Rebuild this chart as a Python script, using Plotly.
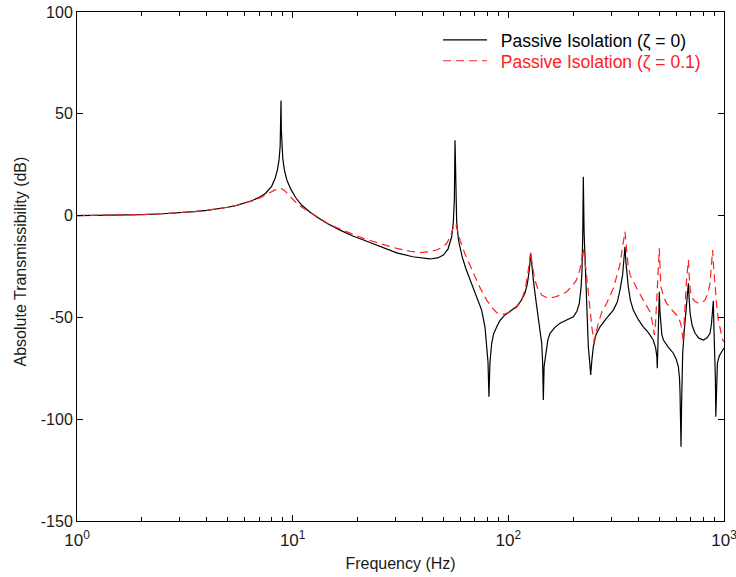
import plotly.graph_objects as go

# Undamped passive isolation: frequency (Hz) and transmissibility (dB)
freq_undamped = [
    1.0, 1.5, 2.0, 2.5, 3.0, 3.5, 4.0, 4.5, 5.0, 5.5, 6.0, 6.5, 7.0, 7.5, 8.0,
    8.3, 8.5, 8.65, 8.75, 8.8, 8.83, 8.86, 8.92, 9.0, 9.15, 9.4, 9.8, 10.3,
    11.0, 12.0, 13.0, 14.4, 16.5, 19.0, 21.3, 25.0, 30.4, 36.0, 40.0, 43.3,
    47.0, 50.0, 52.5, 54.6, 55.6, 56.2, 56.6, 57.0, 57.6, 58.7, 61.0, 63.5,
    66.4, 70.0, 75.2, 78.0, 79.4, 80.5, 81.3, 82.2, 83.7, 85.5, 88.4, 91.5,
    96.0, 101.8, 109.3, 115.0, 119.4, 122.5, 125.1, 127.0, 128.8, 130.6,
    134.0, 137.8, 140.5, 142.8, 144.2, 145.3, 146.5, 149.5, 152.5, 156.1,
    164.0, 173.6, 187.0, 200.1, 208.0, 213.4, 217.5, 219.6, 221.3, 222.7,
    224.5, 227.5, 231.0, 234.9, 238.0, 240.9, 244.0, 247.8, 255.0, 266.1,
    285.0, 306.8, 320.0, 329.5, 338.8, 344.0, 347.4, 351.0, 359.9, 368.0,
    379.6, 400.0, 422.3, 446.0, 469.9, 482.0, 488.0, 490.6, 494.5, 497.9,
    501.3, 504.5, 508.9, 515.0, 523.6, 550.0, 582.4, 600.0, 614.3, 622.0,
    625.4, 629.0, 632.0, 636.0, 643.3, 655.0, 666.7, 676.0, 683.7, 689.5,
    696.5, 712.0, 734.4, 765.0, 802.3, 835.0, 861.5, 875.0, 883.4, 892.5,
    898.0, 906.4, 912.0, 916.2, 922.0, 931.9, 950.0, 975.6, 1000.0,
]
db_undamped = [
    0.0, 0.2, 0.5, 0.9, 1.4, 2.0, 2.6, 3.3, 4.1, 5.0, 6.1, 7.4, 9.0, 11.0, 14.5,
    18.5, 22.5, 27.5, 34.0, 42.0, 56.5, 42.0, 34.0, 28.0, 22.5, 17.5, 13.0, 9.0,
    5.2, 1.8, -0.8, -3.8, -7.0, -10.0, -12.0, -15.0, -18.3, -20.2, -21.0, -21.3,
    -20.8, -19.4, -16.5, -10.4, -3.0, 8.0, 37.0, 8.0, -3.0, -12.0, -20.0, -26.0,
    -31.6, -37.5, -46.4, -55.0, -62.7, -72.0, -89.0, -72.0, -62.7, -58.0, -54.6, -51.5,
    -49.0, -47.2, -44.7, -41.5, -38.2, -33.5, -26.7, -18.5, -26.0, -31.6,
    -41.0, -49.7, -56.0, -62.7, -72.0, -90.6, -74.0, -66.0, -61.0, -57.8,
    -55.0, -52.9, -51.3, -49.7, -47.0, -43.1, -35.0, -26.7, -10.0, 19.1,
    -8.0, -26.7, -47.0, -64.4, -71.0, -78.3, -71.0, -64.4, -58.5, -54.6,
    -50.5, -46.4, -42.5, -36.5, -29.0, -22.0, -15.3, -23.0, -34.9, -41.5,
    -46.4, -51.0, -54.6, -57.5, -61.1, -65.0, -69.0, -75.0, -62.0, -51.3,
    -37.4, -47.0, -54.6, -58.5, -61.1, -64.5, -67.6, -70.5, -74.2, -80.0,
    -87.3, -98.0, -113.5, -92.0, -67.6, -56.0, -48.0, -41.0, -33.3, -41.0,
    -48.0, -54.0, -57.8, -60.2, -61.1, -60.0, -57.8, -53.0, -48.0, -41.9,
    -55.0, -67.6, -80.0, -98.8, -82.0, -72.5, -69.0, -66.8, -65.0,
]

# Damped passive isolation (zeta = 0.1)
freq_damped = [
    1.0, 1.5, 2.0, 2.5, 3.0, 3.5, 4.0, 4.5, 5.0, 5.5, 6.0, 6.5, 7.0, 7.5, 8.0,
    8.5, 8.8, 9.1, 9.4, 9.8, 10.3, 10.8, 11.5, 12.5, 13.5, 14.9, 16.6, 19.0,
    21.3, 25.0, 30.4, 35.0, 38.9, 43.0, 46.5, 49.5, 51.8, 54.0, 56.0, 57.0,
    58.3, 59.7, 63.0, 68.8, 74.0, 79.4, 84.0, 88.4, 94.8, 101.8, 109.3, 115.0,
    119.4, 123.0, 125.5, 127.0, 129.0, 132.8, 137.0, 142.8, 150.0, 161.7,
    175.0, 186.4, 198.0, 207.3, 214.0, 218.9, 222.0, 225.0, 229.2, 234.0,
    239.1, 244.0, 249.6, 255.0, 261.2, 272.0, 285.7, 306.8, 320.0, 329.5,
    335.0, 341.0, 347.4, 353.0, 359.9, 368.0, 379.6, 400.0, 422.3, 440.0,
    453.6, 465.0, 475.6, 482.0, 490.0, 496.0, 501.3, 505.0, 510.0, 525.0,
    542.0, 575.0, 614.3, 632.0, 640.0, 648.0, 655.0, 662.0, 670.0, 678.0,
    683.7, 690.0, 697.0, 707.5, 730.0, 760.8, 790.0, 816.1, 840.0, 861.5,
    875.0, 885.2, 895.0, 907.8, 925.0, 941.3, 965.0, 985.8, 1000.0,
]
db_damped = [
    0.0, 0.2, 0.5, 0.9, 1.4, 2.0, 2.6, 3.3, 4.1, 5.0, 6.0, 7.2, 8.6, 10.2, 11.8,
    13.2, 13.4, 12.6, 11.2, 9.0, 6.7, 4.8, 2.8, 0.5, -1.6, -4.5, -6.6, -9.2,
    -11.2, -13.5, -16.1, -17.5, -18.2, -17.8, -16.9, -15.5, -13.6, -10.0, -4.6, -4.0,
    -7.5, -12.0, -19.0, -28.4, -35.5, -41.5, -45.2, -47.7, -48.5, -47.4, -45.0, -41.8,
    -36.5, -29.0, -21.5, -17.7, -24.0, -31.6, -36.0, -39.0, -40.2, -40.2,
    -39.0, -37.4, -34.5, -31.6, -27.0, -21.8, -16.0, -20.0, -26.7, -36.0,
    -46.4, -55.0, -61.9, -57.0, -52.9, -47.0, -43.1, -35.7, -29.0, -24.0,
    -18.5, -12.0, -7.9, -16.0, -25.1, -29.5, -32.5, -37.0, -41.5, -44.5,
    -47.2, -52.0, -58.6, -52.0, -36.0, -24.0, -16.1, -25.0, -34.9, -40.0,
    -43.1, -46.5, -49.7, -53.5, -58.0, -62.0, -50.0, -40.0, -32.0, -26.0,
    -21.8, -30.0, -36.0, -39.8, -42.0, -43.1, -42.8, -41.5, -38.5, -33.3,
    -26.0, -16.9, -25.0, -34.9, -44.0, -51.3, -57.0, -61.1, -62.0,
]

x_tick_vals = [1, 10, 100, 1000]
x_tick_text = ["10<sup>0</sup>", "10<sup>1</sup>", "10<sup>2</sup>", "10<sup>3</sup>"]
x_minor_vals = [m * 10 ** d for d in range(3) for m in range(2, 10)]
y_tick_vals = [-150, -100, -50, 0, 50, 100]
y_tick_text = ["-150", "-100", "-50", "0", "50", "100"]

FONT = "Liberation Sans, Arial, sans-serif"
TEXT_COLOR = "#1a1a1a"
RED = "#ff2020"

fig = go.Figure()
fig.add_trace(go.Scatter(
    x=freq_undamped, y=db_undamped, mode="lines",
    name="\u2002Passive Isolation (\u03b6 = 0)",
    line=dict(color="black", width=1.2),
    legend="legend",
))
fig.add_trace(go.Scatter(
    x=freq_damped, y=db_damped, mode="lines",
    name="<span style='color:#ff2020'>\u2002Passive Isolation (\u03b6 = 0.1)</span>",
    line=dict(color=RED, width=1.2, dash="8px,5px"),
    legend="legend2",
))

axis_common = dict(
    showline=True, linecolor="black", linewidth=1, mirror="ticks",
    ticks="inside", tickcolor="black", showgrid=False, zeroline=False,
    automargin=False,
)

fig.update_xaxes(
    type="log", range=[0, 3],
    tickvals=x_tick_vals, ticktext=x_tick_text, ticklen=6,
    tickfont=dict(family=FONT, size=17, color=TEXT_COLOR),
    ticklabelstandoff=4, ticklabeloverflow="allow",
    minor=dict(tickvals=x_minor_vals, ticks="inside", ticklen=4,
               tickcolor="black", showgrid=False),
    title=dict(text="Frequency (Hz)", font=dict(family=FONT, size=16, color=TEXT_COLOR),
               standoff=8),
    **axis_common,
)
fig.update_yaxes(
    range=[-150, 100], tickvals=y_tick_vals, ticktext=y_tick_text, ticklen=6,
    tickfont=dict(family=FONT, size=16, color=TEXT_COLOR),
    ticklabeloverflow="allow",
    **axis_common,
)

# y-axis title placed as a rotated annotation
fig.add_annotation(
    text="Absolute Transmissibility (dB)", textangle=-90,
    xref="paper", yref="paper", x=-0.088, y=0.51,
    xanchor="center", yanchor="middle", showarrow=False,
    font=dict(family=FONT, size=16, color=TEXT_COLOR),
)

legend_common = dict(
    xanchor="left", yanchor="middle",
    bgcolor="rgba(0,0,0,0)", borderwidth=0,
    itemwidth=44, tracegroupgap=0,
)
fig.update_layout(
    width=736, height=577,
    margin=dict(l=77, r=12, t=12, b=56),
    paper_bgcolor="white", plot_bgcolor="white",
    showlegend=True,
    legend=dict(x=0.558, y=0.945, font=dict(family=FONT, size=17.5, color="black"),
                **legend_common),
    legend2=dict(x=0.558, y=0.904, font=dict(family=FONT, size=17.5, color=RED),
                 **legend_common),
)

fig.write_html("out.html")
